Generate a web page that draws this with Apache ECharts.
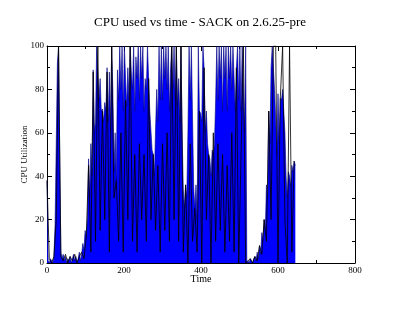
<!DOCTYPE html>
<html>
<head>
<meta charset="utf-8">
<script src="https://cdn.jsdelivr.net/npm/echarts@6/dist/echarts.min.js"></script>
<style>
  html, body { margin: 0; padding: 0; background: #fff; }
  #chart { width: 400px; height: 309px; }
</style>
</head>
<body>
<div id="chart"></div>
<script>
// blue trace: CPU utilization (%) every 3 s from t = 0
const blueStep = 3
const cpuBlue = [
  38, 1, 0, 2, 1, 0, 3, 18, 55, 92,
  100, 50, 5, 2, 4, 1, 3, 0, 2, 1,
  3, 0, 2, 4, 1, 3, 0, 2, 5, 1,
  4, 9, 6, 15, 12, 21, 48, 30, 55, 40,
  89, 60, 65, 100, 100, 75, 85, 70, 71, 65,
  74, 70, 90, 65, 88, 60, 100, 80, 42, 60,
  38, 89, 75, 100, 80, 100, 70, 100, 85, 72,
  90, 75, 100, 88, 80, 100, 70, 95, 85, 100,
  75, 100, 85, 100, 70, 85, 80, 100, 85, 70,
  70, 52, 50, 40, 62, 80, 65, 100, 75, 100,
  75, 100, 85, 100, 80, 100, 70, 90, 100, 80,
  100, 75, 100, 72, 85, 65, 100, 60, 34, 25,
  36, 30, 60, 100, 75, 100, 100, 35, 25, 36,
  20, 100, 70, 69, 65, 100, 90, 60, 70, 55,
  50, 48, 40, 52, 50, 55, 75, 100, 75, 100,
  85, 100, 70, 100, 85, 100, 70, 100, 85, 100,
  80, 100, 100, 70, 90, 100, 75, 100, 70, 100,
  100, 60, 100, 0, 1, 0, 2, 1, 0, 2,
  3, 1, 5, 2, 8, 4, 14, 10, 20, 15,
  36, 30, 70, 55, 90, 100, 100, 80, 66, 50,
  78, 55, 76, 75, 80, 80, 60, 40, 30, 42,
  40, 35, 45, 42, 47, 45
]
// black trace: CPU utilization (%) every 6 s from t = 0
const blackStep = 6
const cpuBlack = [
  38, 2, 0, 3, 20, 100, 3, 1, 4, 0,
  3, 1, 4, 0, 3, 5, 2, 12, 45, 5,
  88, 10, 100, 15, 70, 20, 88, 5, 100, 30,
  38, 10, 60, 5, 75, 20, 100, 10, 50, 5,
  55, 20, 50, 10, 85, 20, 50, 15, 45, 5,
  55, 15, 60, 10, 100, 20, 100, 10, 100, 5,
  36, 0, 55, 10, 25, 5, 70, 0, 90, 20,
  50, 0, 60, 10, 55, 15, 50, 5, 45, 10,
  60, 5, 90, 0, 50, 100, 0, 1, 2, 0,
  3, 1, 8, 4, 20, 10, 70, 20, 100, 100,
  0, 76, 100, 20, 0, 100, 5, 47
]
const xTicks = [0, 200, 400, 600, 800]
const yTicks = [0, 20, 40, 60, 80, 100]

const blueData = cpuBlue.map((v, i) => [i * blueStep, v])
const blackData = cpuBlack.map((v, i) => [i * blackStep, v])

const chart = echarts.init(document.getElementById('chart'), null, { renderer: 'canvas' })
const serif = 'Liberation Serif'
const tickStyle = { show: true, inside: true, length: 5, lineStyle: { color: '#000', width: 1 } }
const minorStyle = { show: true, splitNumber: 2, length: 3, lineStyle: { color: '#000', width: 1 } }
const boxLine = { show: true, onZero: false, lineStyle: { color: '#000', width: 1 } }

chart.setOption({
  animation: false,
  backgroundColor: '#fff',
  title: {
    text: 'CPU used vs time - SACK on 2.6.25-pre',
    left: 'center',
    top: 11,
    textStyle: { fontFamily: serif, fontWeight: 'normal', fontSize: 13, color: '#000' }
  },
  grid: { left: 47, right: 45, top: 46, bottom: 46 },
  xAxis: [
    {
      type: 'value',
      min: xTicks[0],
      max: xTicks[xTicks.length - 1],
      interval: 200,
      name: 'Time',
      nameLocation: 'middle',
      nameGap: 11,
      nameMoveOverlap: false,
      nameTextStyle: { fontFamily: serif, fontSize: 10, color: '#000' },
      axisLine: boxLine,
      axisTick: tickStyle,
      minorTick: minorStyle,
      axisLabel: { fontFamily: serif, fontSize: 9, color: '#000', margin: 3 },
      splitLine: { show: false }
    },
    {
      type: 'value',
      position: 'top',
      min: xTicks[0],
      max: xTicks[xTicks.length - 1],
      interval: 200,
      axisLine: boxLine,
      axisTick: tickStyle,
      minorTick: minorStyle,
      axisLabel: { show: false },
      splitLine: { show: false }
    }
  ],
  yAxis: [
    {
      type: 'value',
      min: yTicks[0],
      max: yTicks[yTicks.length - 1],
      interval: 20,
      name: 'CPU Utilization',
      nameLocation: 'middle',
      nameGap: 18,
      nameMoveOverlap: false,
      nameTextStyle: { fontFamily: serif, fontSize: 9, color: '#000' },
      axisLine: boxLine,
      axisTick: tickStyle,
      minorTick: minorStyle,
      axisLabel: { fontFamily: serif, fontSize: 9, color: '#000', margin: 3 },
      splitLine: { show: false }
    },
    {
      type: 'value',
      position: 'right',
      min: yTicks[0],
      max: yTicks[yTicks.length - 1],
      interval: 20,
      axisLine: boxLine,
      axisTick: tickStyle,
      minorTick: minorStyle,
      axisLabel: { show: false },
      splitLine: { show: false }
    }
  ],
  series: [
    {
      name: 'blue',
      type: 'line',
      data: blueData,
      showSymbol: false,
      lineStyle: { color: '#000080', width: 0.6 },
      areaStyle: { color: '#0000ff', opacity: 1 }
    },
    {
      name: 'black',
      type: 'line',
      data: blackData,
      showSymbol: false,
      lineStyle: { color: '#000', width: 0.8 }
    }
  ]
})
</script>
</body>
</html>
